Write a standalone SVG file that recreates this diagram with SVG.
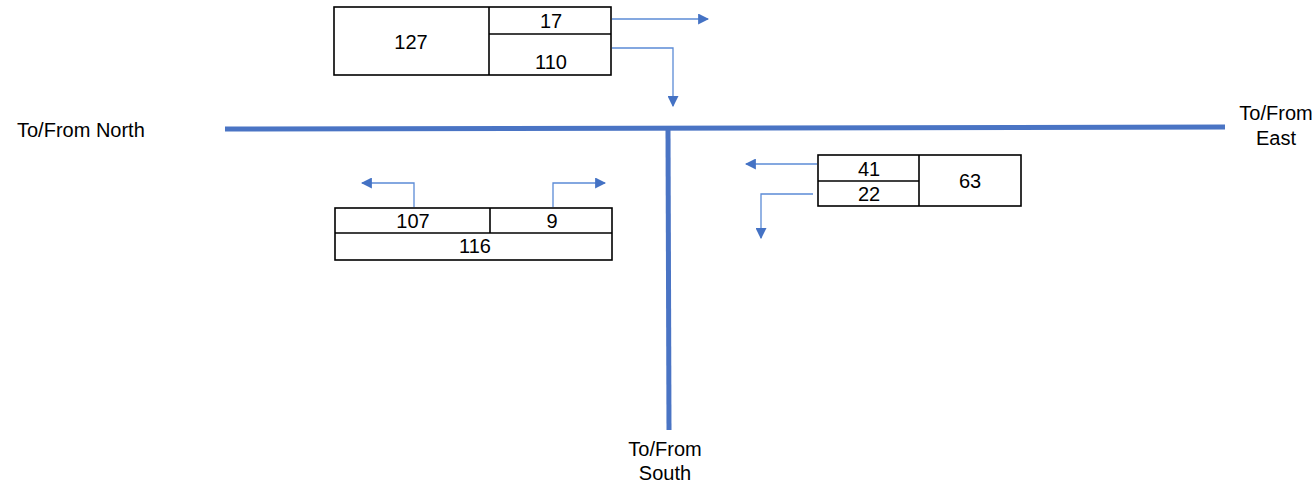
<svg xmlns="http://www.w3.org/2000/svg" width="1314" height="489" viewBox="0 0 1314 489">
<style>
.box{fill:#fff;stroke:#000;stroke-width:1.6}
.ln{stroke:#000;stroke-width:1.6}
.t{font-family:"Liberation Sans",Arial,sans-serif;font-size:20px;fill:#000;text-anchor:middle;dominant-baseline:central}
.lbl{font-family:"Liberation Sans",Arial,sans-serif;font-size:20px;fill:#000}
.road{stroke:#4a74c4;stroke-width:5;fill:none}
.arr{stroke:#5b8bd6;stroke-width:1.3;fill:none;marker-end:url(#ah)}
</style>
<defs>
<marker id="ah" viewBox="0 0 10 10" refX="9" refY="5" markerWidth="11" markerHeight="11" markerUnits="userSpaceOnUse" orient="auto">
<path d="M0,0 L10,5 L0,10 z" fill="#4472c4"/>
</marker>
</defs>
<rect width="1314" height="489" fill="#fff"/>
<g id="roads">
<line class="road" x1="225" y1="129" x2="1225" y2="127"/>
<line class="road" x1="668" y1="129" x2="669" y2="430"/>
</g>
<g id="connectors">
<polyline class="arr" points="612,19 708,19"/>
<polyline class="arr" points="612,48 673,48 673,106"/>
<polyline class="arr" points="414,207 414,183 362,183"/>
<polyline class="arr" points="553,207 553,183 605,183"/>
<polyline class="arr" points="817,164 746,164"/>
<polyline class="arr" points="813,194 761,194 761,238"/>
</g>
<g id="north-box">
<rect class="box" x="334" y="7" width="277" height="68"/>
<line class="ln" x1="489" y1="7" x2="489" y2="75"/>
<line class="ln" x1="489" y1="34" x2="611" y2="34"/>
<text class="t" x="411" y="42">127</text>
<text class="t" x="551" y="21">17</text>
<text class="t" x="551" y="62">110</text>
</g>
<g id="south-box">
<rect class="box" x="335" y="208" width="277" height="52"/>
<line class="ln" x1="490" y1="208" x2="490" y2="233"/>
<line class="ln" x1="335" y1="233" x2="612" y2="233"/>
<text class="t" x="413" y="221">107</text>
<text class="t" x="552" y="221">9</text>
<text class="t" x="475" y="246">116</text>
</g>
<g id="east-box">
<rect class="box" x="818" y="155" width="203" height="51"/>
<line class="ln" x1="919" y1="155" x2="919" y2="206"/>
<line class="ln" x1="818" y1="181" x2="919" y2="181"/>
<text class="t" x="869" y="169">41</text>
<text class="t" x="869" y="194">22</text>
<text class="t" x="970" y="181">63</text>
</g>
<g id="labels">
<text class="lbl" x="17" y="137">To/From North</text>
<text class="t" x="1276" y="113">To/From</text>
<text class="t" x="1276" y="138">East</text>
<text class="t" x="665" y="449">To/From</text>
<text class="t" x="665" y="473">South</text>
</g>
</svg>
